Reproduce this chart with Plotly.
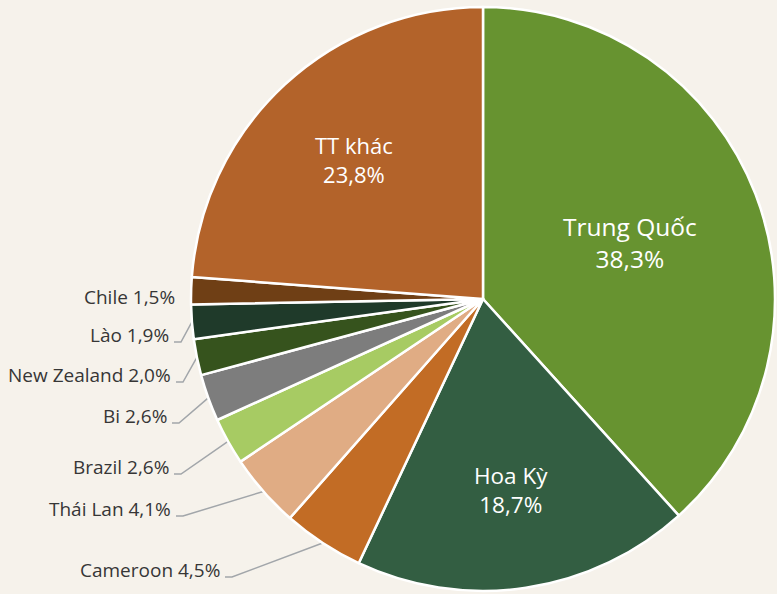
import math
import plotly.graph_objects as go

# ---- data ----
labels = ["Trung Quốc", "Hoa Kỳ", "Cameroon", "Thái Lan", "Brazil", "Bi",
          "New Zealand", "Lào", "Chile", "TT khác"]
values = [38.3, 18.7, 4.5, 4.1, 2.6, 2.6, 2.0, 1.9, 1.5, 23.8]
value_text = ["38,3%", "18,7%", "4,5%", "4,1%", "2,6%", "2,6%", "2,0%", "1,9%", "1,5%", "23,8%"]

# ---- style ----
colors = ["#679330", "#335E42", "#C26C25", "#E0AC84", "#A7CB63", "#7D7D7D",
          "#36531D", "#1F3A2A", "#6F3F15", "#B3632A"]

W, H = 777, 594
CX, CY, R = 483, 299, 292  # pie centre / radius in px (matches domain below)

fig = go.Figure(go.Pie(
    labels=labels, values=values, sort=False, direction="clockwise", rotation=0,
    marker=dict(colors=colors, line=dict(color="white", width=2.5)),
    textinfo="none", hoverinfo="label+percent", showlegend=False,
    domain=dict(x=[(CX - R) / W, (CX + R) / W], y=[(H - CY - R) / H, (H - CY + R) / H]),
))

def px2paper(x, y):
    return x / W, 1 - y / H

total = sum(values)
mids = []
cum = 0
for v in values:
    mids.append((cum + v / 2) / total * 360)
    cum += v

annotations = []
shapes = []

# inside labels: (index, radial fraction, font size)
inside = {0: (0.54, 24.5), 1: (0.66, 22.5), 9: (0.65, 22)}
for i, (rf, fs) in inside.items():
    th = math.radians(mids[i])
    x = CX + rf * R * math.sin(th)
    y = CY - rf * R * math.cos(th)
    xp, yp = px2paper(x, y)
    annotations.append(dict(
        x=xp, y=yp, xref="paper", yref="paper", showarrow=False,
        xanchor="center", yanchor="middle",
        text=f"{labels[i]}<br>{value_text[i]}", align="center",
        font=dict(family="Open Sans", size=fs, color="white", weight=500),
    ))

# outside labels: index -> (label right x, label centre y, draw line)
outside = {2: (222, 570, True), 3: (173, 509, True), 4: (171, 467, True),
           5: (169, 416, True), 6: (173, 375, True), 7: (171, 335, True),
           8: (177, 297, False)}
for i, (lx, ly, line) in outside.items():
    xp, yp = px2paper(lx, ly)
    annotations.append(dict(
        x=xp, y=yp, xref="paper", yref="paper", showarrow=False,
        xanchor="right", yanchor="middle",
        text=f"{labels[i]} {value_text[i]}",
        font=dict(family="Open Sans", size=19, color="#363636", weight=500),
    ))
    if line:
        th = math.radians(mids[i])
        ex = CX + R * math.sin(th)
        ey = CY - R * math.cos(th)
        sx, sy = lx + 3, ly + 7
        kx = sx + 7
        p = [px2paper(sx, sy), px2paper(kx, sy), px2paper(ex, ey)]
        path = "M {} {} L {} {} L {} {}".format(p[0][0], p[0][1], p[1][0], p[1][1], p[2][0], p[2][1])
        shapes.append(dict(type="path", path=path, xref="paper", yref="paper",
                           line=dict(color="#A2A6AA", width=1.5), layer="below"))

fig.update_layout(
    width=W, height=H, margin=dict(l=0, r=0, t=0, b=0),
    paper_bgcolor="#F6F2EB", plot_bgcolor="#F6F2EB",
    annotations=annotations, shapes=shapes,
)

fig.write_html("out.html", config={"displayModeBar": False},
               post_script="document.body.style.margin='0';document.body.style.overflow='hidden';")
